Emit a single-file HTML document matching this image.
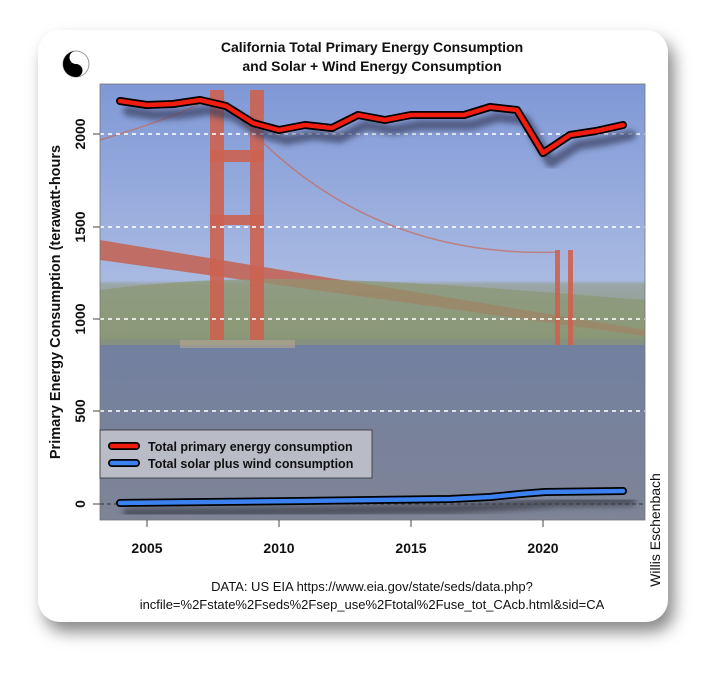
<!DOCTYPE html>
<html><head><style>
body{margin:0;background:#fff;width:720px;height:684px;overflow:hidden;font-family:"Liberation Sans",sans-serif}
</style></head><body>
<svg width="720" height="684" viewBox="0 0 720 684" xmlns="http://www.w3.org/2000/svg">
<defs>
<filter id="sh" x="-10%" y="-10%" width="130%" height="130%"><feGaussianBlur stdDeviation="8"/></filter>
<filter id="bl"><feGaussianBlur stdDeviation="3"/></filter>
<linearGradient id="bg" x1="0" y1="0" x2="0" y2="1">
<stop offset="0" stop-color="#7f98d6"/><stop offset="0.45" stop-color="#a9bae2"/>
<stop offset="0.46" stop-color="#9aa6a8"/><stop offset="0.58" stop-color="#8a9a80"/>
<stop offset="0.59" stop-color="#7280a0"/><stop offset="1" stop-color="#7e8496"/>
</linearGradient>
<clipPath id="pc"><rect x="100" y="84" width="545" height="436"/></clipPath>
</defs>
<rect x="44" y="40" width="630" height="592" rx="22" fill="#888" filter="url(#sh)"/>
<rect x="38" y="30" width="630" height="592" rx="22" fill="#fff"/>
<rect x="100" y="84" width="545" height="436" fill="url(#bg)"/>
<g clip-path="url(#pc)">
<path d="M100 240 L645 330 L645 336 L100 260Z" fill="#c4604f" opacity="0.85"/>
<path d="M100 290 C250 270 400 280 645 300 L645 345 L100 345Z" fill="#8b9772" opacity="0.7"/>
<rect x="210" y="90" width="14" height="250" fill="#cc6250" opacity="0.9"/>
<rect x="250" y="90" width="14" height="250" fill="#cc6250" opacity="0.9"/>
<rect x="210" y="150" width="54" height="12" fill="#cc6250" opacity="0.9"/>
<rect x="210" y="215" width="54" height="10" fill="#cc6250" opacity="0.9"/>
<rect x="555" y="250" width="5" height="95" fill="#cc6250" opacity="0.9"/>
<rect x="568" y="250" width="5" height="95" fill="#cc6250" opacity="0.9"/>
<path d="M100 140 Q200 110 217 92 Q350 260 560 252" fill="none" stroke="#c86a5a" stroke-width="1.5" opacity="0.7"/>
<rect x="180" y="340" width="115" height="8" fill="#b8a890" opacity="0.6"/>
</g>
<g stroke="#fff" stroke-width="1.8" stroke-dasharray="4,4" opacity="0.9">
<line x1="100" y1="134" x2="645" y2="134"/><line x1="100" y1="227" x2="645" y2="227"/>
<line x1="100" y1="319" x2="645" y2="319"/><line x1="100" y1="411" x2="645" y2="411"/>
</g>
<line x1="100" y1="504" x2="645" y2="504" stroke="#333" stroke-width="1" stroke-dasharray="4,3"/>
<rect x="100" y="84" width="545" height="436" fill="none" stroke="#777" stroke-width="0.8"/>
<g fill="none" stroke-linecap="round" stroke-linejoin="round">
<polyline filter="url(#bl)" stroke="#3a4060" stroke-width="10" opacity="0.7" points="128,111 155,115 181,114 208,110 234,116 261,133 287,140 313,135 340,138 366,125 393,130 419,125 445,125 472,125 498,117 525,120 551,163 578,145 604,141 631,135"/>
<polyline filter="url(#bl)" stroke="#3a3e4a" stroke-width="10" opacity="0.7" points="128,513 300,511 450,509 520,505 560,502 631,501"/>
<polyline stroke="#000" stroke-width="8" points="120,101 147,105 173,104 200,100 226,106 253,123 279,130 305,125 332,128 358,115 385,120 411,115 437,115 464,115 490,107 517,110 543,153 570,135 596,131 623,125"/>
<polyline stroke="#f01c10" stroke-width="4.5" points="120,101 147,105 173,104 200,100 226,106 253,123 279,130 305,125 332,128 358,115 385,120 411,115 437,115 464,115 490,107 517,110 543,153 570,135 596,131 623,125"/>
<polyline stroke="#000" stroke-width="8" points="120,503 300,501 450,499 490,497 520,494 545,492 623,491"/>
<polyline stroke="#3b82f0" stroke-width="4.5" points="120,503 300,501 450,499 490,497 520,494 545,492 623,491"/>
</g>
<rect x="100" y="430" width="272" height="48" fill="#c4c6ce" fill-opacity="0.85" stroke="#333" stroke-width="0.8"/>
<g stroke-linecap="round"><line x1="112" y1="446" x2="136" y2="446" stroke="#000" stroke-width="8"/><line x1="112" y1="446" x2="136" y2="446" stroke="#f01c10" stroke-width="4.5"/>
<line x1="112" y1="463" x2="136" y2="463" stroke="#000" stroke-width="8"/><line x1="112" y1="463" x2="136" y2="463" stroke="#3b82f0" stroke-width="4.5"/></g>
<g font-weight="bold" font-size="12.5" fill="#111">
<text x="148" y="451">Total primary energy consumption</text>
<text x="148" y="468">Total solar plus wind consumption</text>
</g>
<g stroke="#444"><line x1="147" y1="520" x2="147" y2="527"/><line x1="279" y1="520" x2="279" y2="527"/><line x1="411" y1="520" x2="411" y2="527"/><line x1="543" y1="520" x2="543" y2="527"/>
<line x1="93" y1="134" x2="100" y2="134"/><line x1="93" y1="227" x2="100" y2="227"/><line x1="93" y1="319" x2="100" y2="319"/><line x1="93" y1="411" x2="100" y2="411"/><line x1="93" y1="504" x2="100" y2="504"/></g>
<g font-weight="bold" font-size="14" fill="#111" text-anchor="middle">
<text x="147" y="553">2005</text><text x="279" y="553">2010</text><text x="411" y="553">2015</text><text x="543" y="553">2020</text>
<g transform="translate(85,0)">
<text transform="translate(0,134) rotate(-90)">2000</text><text transform="translate(0,227) rotate(-90)">1500</text><text transform="translate(0,319) rotate(-90)">1000</text><text transform="translate(0,411) rotate(-90)">500</text><text transform="translate(0,504) rotate(-90)">0</text></g>
<text transform="translate(60,302) rotate(-90)" font-size="14.5">Primary Energy Consumption (terawatt-hours</text>
<text x="372" y="52" font-size="14">California Total Primary Energy Consumption</text>
<text x="372" y="71" font-size="14">and Solar + Wind Energy Consumption</text>
</g>
<g font-size="13" fill="#111" text-anchor="middle">
<text x="372" y="591">DATA: US EIA https://www.eia.gov/state/seds/data.php?</text>
<text x="372" y="609">incfile=%2Fstate%2Fseds%2Fsep_use%2Ftotal%2Fuse_tot_CAcb.html&amp;sid=CA</text>
<text transform="translate(660,530) rotate(-90)" font-size="14">Willis Eschenbach</text>
</g>
<circle cx="76" cy="64" r="13" fill="#fff" stroke="#999"/>
<path d="M76 51 A13 13 0 0 0 76 77 A6.5 6.5 0 0 0 76 64 A6.5 6.5 0 0 1 76 51Z" fill="#000"/>
</svg>
</body></html>
